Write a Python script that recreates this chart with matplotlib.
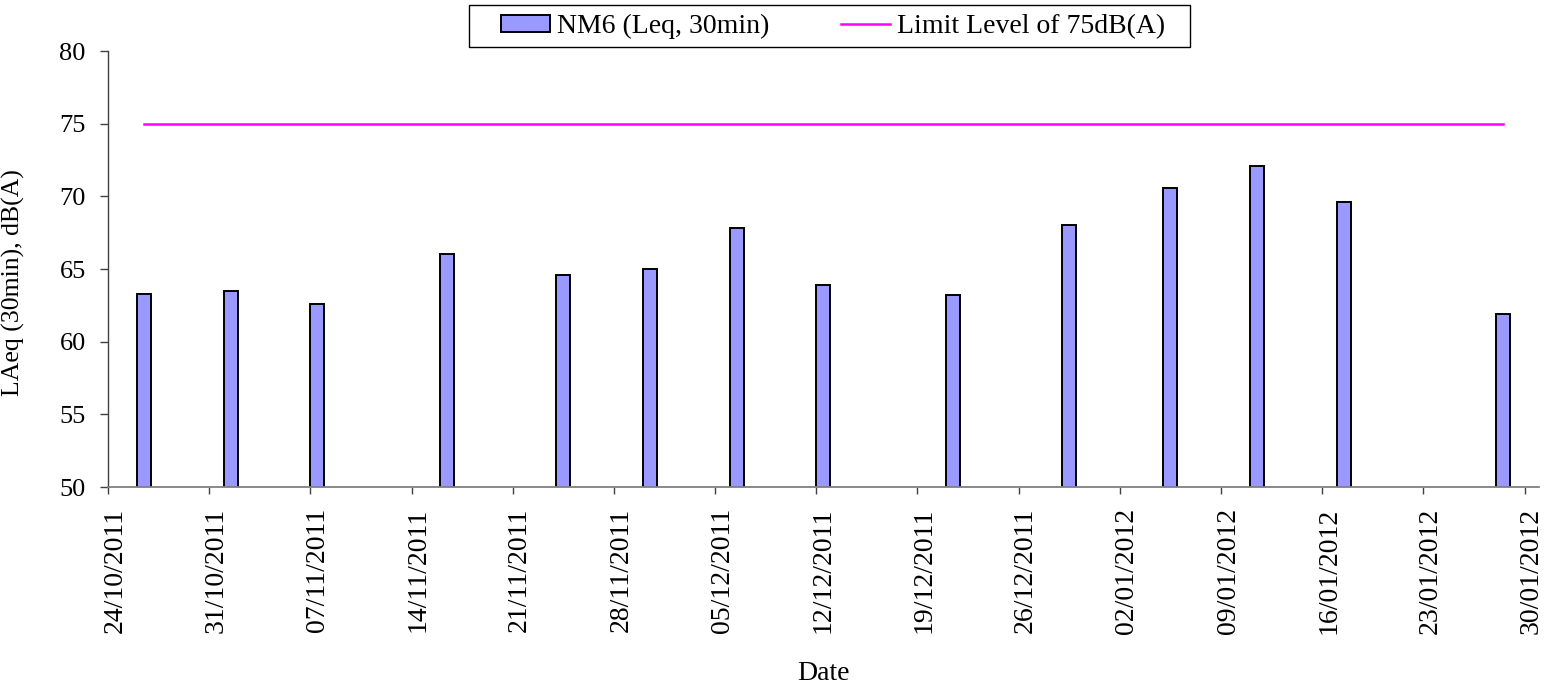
import datetime as dt
import matplotlib
matplotlib.use("Agg")
import matplotlib.pyplot as plt
import matplotlib.dates as mdates
import matplotlib.transforms as mtransforms
from matplotlib.patches import Rectangle

plt.rcParams['font.family'] = ['Liberation Serif', 'DejaVu Serif']

# ---- data ----
dates = ["26/10/2011", "01/11/2011", "07/11/2011", "16/11/2011", "24/11/2011",
         "30/11/2011", "06/12/2011", "12/12/2011", "21/12/2011", "29/12/2011",
         "05/01/2012", "11/01/2012", "17/01/2012", "28/01/2012"]
leq = [63.3, 63.5, 62.6, 66.0, 64.6, 65.0, 67.8, 63.9, 63.2, 68.0,
       70.6, 72.1, 69.6, 61.9]
limit_values = [75] * len(dates)
tick_start = "24/10/2011"
tick_end = "30/01/2012"
bar_label = "NM6 (Leq, 30min)"
line_label = "Limit Level of 75dB(A)"

W, H = 1555, 688
d = [dt.datetime.strptime(s, "%d/%m/%Y") for s in dates]
half_day = dt.timedelta(hours=12)

fig = plt.figure(figsize=(W / 100, H / 100), dpi=100)
ax = fig.add_axes([108 / W, 1 - 487 / H, (1539 - 108) / W, (487 - 51) / H])

bars = ax.bar(d, leq, width=0.97, align='edge', color='#9999FF',
              edgecolor='black', linewidth=1.4, label=bar_label, zorder=2)
line, = ax.plot([x + half_day for x in d], limit_values, color='#FF00FF',
                linewidth=1.8, label=line_label, zorder=3)

t0 = dt.datetime.strptime(tick_start, "%d/%m/%Y")
t1 = dt.datetime.strptime(tick_end, "%d/%m/%Y")
ax.set_xlim(t0, t1 + dt.timedelta(days=1))
ax.set_ylim(50, 80)
ax.set_yticks(range(50, 81, 5))
ticks = mdates.drange(t0, t1 + dt.timedelta(days=1), dt.timedelta(days=7))
ax.set_xticks(ticks)
ax.xaxis.set_major_formatter(mdates.DateFormatter("%d/%m/%Y"))

for s in ['top', 'right']:
    ax.spines[s].set_visible(False)
ax.spines['bottom'].set_color('#808080')
ax.spines['left'].set_color('#404040')
ax.spines['bottom'].set_linewidth(1.3)
ax.spines['left'].set_linewidth(1.0)

ax.tick_params(axis='y', length=6, width=1, color='#404040', pad=10, labelsize=19)
ax.tick_params(axis='x', length=5, width=1, color='#404040', pad=10, labelsize=20,
               labelrotation=90)
offset = mtransforms.ScaledTranslation(7 / 100, 0, fig.dpi_scale_trans)
for lab in ax.get_xticklabels():
    lab.set_transform(lab.get_transform() + offset)

ax.set_xlabel("Date", fontsize=20)
ax.set_ylabel("LAeq (30min), dB(A)", fontsize=18.5)
ax.xaxis.set_label_coords(0.5, -0.40)
ax.yaxis.set_label_coords(-0.058, 0.47)

# legend frame (Excel style box)
fig.patches.append(Rectangle((469 / W, 1 - 47 / H), (1190 - 469) / W, 42 / H,
                             transform=fig.transFigure, fill=False,
                             edgecolor='black', linewidth=1.0))
leg = fig.legend(handles=[bars, line], labels=[bar_label, line_label], ncol=2,
                 loc='center left', bbox_to_anchor=(501 / W, 1 - 26.5 / H),
                 fontsize=20, frameon=False,
                 handlelength=1.75, handleheight=0.58, handletextpad=0.25,
                 columnspacing=2.6, borderpad=0, borderaxespad=0)

fig.savefig("out.png", dpi=100)
